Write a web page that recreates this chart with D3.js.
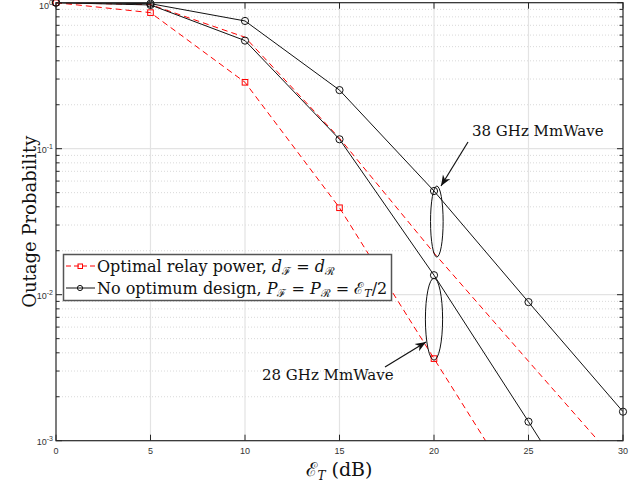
<!DOCTYPE html>
<html>
<head>
<meta charset="utf-8">
<script src="https://cdn.jsdelivr.net/npm/d3@7"></script>
<style>
  body { margin: 0; background: #fff; }
  svg { display: block; }
  .tick-label { font: 9px "Liberation Sans", Arial, sans-serif; fill: #333; }
  .serif { font-family: "DejaVu Serif", "Liberation Serif", serif; fill: #111; }
</style>
</head>
<body>
<script>
// transmit power (dB) on x
var snr = [0, 5, 10, 15, 20, 25, 30];

// outage probability
var opt28   = [1.0, 0.855, 0.285, 0.0394, 0.00365, 0.00034, 0.00003];
var opt38   = [1.0, 0.97, 0.58, 0.118, 0.0193, 0.0035, 0.00064];
var noOpt28 = [1.0, 0.965, 0.55, 0.116, 0.0136, 0.00135, 0.00013];
var noOpt38 = [1.0, 0.985, 0.75, 0.252, 0.0513, 0.0089, 0.00158];

var xTicks = [0, 5, 10, 15, 20, 25, 30];
var yExp = [0, -1, -2, -3];

var W = 644, H = 485;
var margin = {left: 56, right: 21, top: 2.7, bottom: 44.3};
var width = W - margin.left - margin.right,
    height = H - margin.top - margin.bottom;

var svg = d3.select("body").append("svg")
  .attr("width", W).attr("height", H);

var x = d3.scaleLinear().domain([0, 30]).range([margin.left, margin.left + width]);
var y = d3.scaleLog().domain([1e-3, 1]).range([margin.top + height, margin.top]);

var x0 = x.range()[0], x1 = x.range()[1], y0 = y.range()[0], y1 = y.range()[1];

svg.append("defs").append("clipPath").attr("id", "clip")
  .append("rect").attr("x", x0).attr("y", y1).attr("width", width).attr("height", height);

// minor y grid (dotted)
var minor = [];
[-3, -2, -1].forEach(function(e) {
  for (var k = 2; k <= 9; k++) minor.push(k * Math.pow(10, e));
});
svg.append("g").selectAll("line").data(minor).enter().append("line")
  .attr("x1", x0).attr("x2", x1)
  .attr("y1", function(d) { return y(d); }).attr("y2", function(d) { return y(d); })
  .attr("stroke", "#cfcfcf").attr("stroke-width", 0.8).attr("stroke-dasharray", "1,2");

// major grid
svg.append("g").selectAll("line").data(yExp.slice(1, 3)).enter().append("line")
  .attr("x1", x0).attr("x2", x1)
  .attr("y1", function(d) { return y(Math.pow(10, d)); }).attr("y2", function(d) { return y(Math.pow(10, d)); })
  .attr("stroke", "#e3e3e3").attr("stroke-width", 1.2);
svg.append("g").selectAll("line").data(xTicks.slice(1, 6)).enter().append("line")
  .attr("y1", y0).attr("y2", y1)
  .attr("x1", function(d) { return x(d); }).attr("x2", function(d) { return x(d); })
  .attr("stroke", "#e3e3e3").attr("stroke-width", 1.2);

// ticks, inward on all four sides
var tk = svg.append("g").attr("stroke", "#262626").attr("stroke-width", 1);
xTicks.forEach(function(t) {
  tk.append("line").attr("x1", x(t)).attr("x2", x(t)).attr("y1", y0).attr("y2", y0 - 6);
  tk.append("line").attr("x1", x(t)).attr("x2", x(t)).attr("y1", y1).attr("y2", y1 + 6);
});
yExp.forEach(function(e) {
  var v = y(Math.pow(10, e));
  tk.append("line").attr("x1", x0).attr("x2", x0 + 6).attr("y1", v).attr("y2", v);
  tk.append("line").attr("x1", x1).attr("x2", x1 - 6).attr("y1", v).attr("y2", v);
});
minor.forEach(function(m) {
  var v = y(m);
  tk.append("line").attr("x1", x0).attr("x2", x0 + 3.5).attr("y1", v).attr("y2", v);
  tk.append("line").attr("x1", x1).attr("x2", x1 - 3.5).attr("y1", v).attr("y2", v);
});

// tick labels
svg.append("g").selectAll("text").data(xTicks).enter().append("text")
  .attr("class", "tick-label")
  .attr("x", function(d) { return x(d); }).attr("y", y0 + 13)
  .attr("text-anchor", "middle").text(function(d) { return d; });

yExp.forEach(function(e) {
  var t = svg.append("text").attr("class", "tick-label")
    .attr("x", x0 - 3).attr("y", Math.max(y(Math.pow(10, e)) + 4, 8.5)).attr("text-anchor", "end");
  t.append("tspan").text("10");
  t.append("tspan").attr("dy", -3.5).attr("font-size", "7px").text(e);
});

// curves
var line = d3.line()
  .x(function(d) { return x(d[0]); })
  .y(function(d) { return y(d[1]); });

function pairs(vals) { return snr.map(function(s, i) { return [s, vals[i]]; }); }

var curves = svg.append("g").attr("clip-path", "url(#clip)");
[[opt38, "red", "6,4"], [opt28, "red", "6,4"], [noOpt28, "#111", null], [noOpt38, "#111", null]]
  .forEach(function(c) {
    curves.append("path").datum(pairs(c[0]))
      .attr("d", line).attr("fill", "none")
      .attr("stroke", c[1]).attr("stroke-width", 1)
      .attr("stroke-dasharray", c[2]);
  });

// markers
var inRange = function(d) { return d[1] >= 1e-3; };
svg.append("g").selectAll("rect").data(pairs(opt28).filter(inRange)).enter().append("rect")
  .attr("x", function(d) { return x(d[0]) - 2.8; }).attr("y", function(d) { return y(d[1]) - 2.8; })
  .attr("width", 5.6).attr("height", 5.6)
  .attr("fill", "none").attr("stroke", "red").attr("stroke-width", 1);
[noOpt28, noOpt38].forEach(function(s) {
  svg.append("g").selectAll("circle").data(pairs(s).filter(inRange)).enter().append("circle")
    .attr("cx", function(d) { return x(d[0]); }).attr("cy", function(d) { return y(d[1]); })
    .attr("r", 3.6).attr("fill", "none").attr("stroke", "#111").attr("stroke-width", 1);
});

// axes box
svg.append("rect").attr("x", x0).attr("y", y1).attr("width", width).attr("height", height)
  .attr("fill", "none").attr("stroke", "#262626").attr("stroke-width", 1.2);

// axis labels
svg.append("text").attr("class", "serif")
  .attr("transform", "translate(36," + (y1 + y0) / 2 + ") rotate(-90)")
  .attr("text-anchor", "middle").attr("font-size", "18px")
  .text("Outage Probability");

var xl = svg.append("text").attr("class", "serif")
  .attr("x", (x0 + x1) / 2).attr("y", 476)
  .attr("text-anchor", "middle").attr("font-size", "19px");
xl.append("tspan").text("\u2130");
xl.append("tspan").attr("font-size", "12px").attr("font-style", "italic").attr("dy", 4).text("T");
xl.append("tspan").attr("dy", -4).text(" (dB)");

// annotations: ellipses around the 20 dB points and arrows
svg.append("defs").append("marker").attr("id", "arr")
  .attr("viewBox", "0 0 10 10").attr("refX", 10).attr("refY", 5)
  .attr("markerWidth", 9).attr("markerHeight", 9).attr("orient", "auto")
  .append("path").attr("d", "M0,1 L10,5 L0,9 L3,5 Z").attr("fill", "#111");

svg.append("ellipse").attr("cx", x(20.15)).attr("cy", y(0.0317))
  .attr("rx", 6.3).attr("ry", 35.5).attr("fill", "none").attr("stroke", "#111").attr("stroke-width", 1);
svg.append("ellipse").attr("cx", x(20)).attr("cy", y(0.0068))
  .attr("rx", 8.6).attr("ry", 41).attr("fill", "none").attr("stroke", "#111").attr("stroke-width", 1);

svg.append("line").attr("x1", 468).attr("y1", 142).attr("x2", 441).attr("y2", 186)
  .attr("stroke", "#111").attr("stroke-width", 1.2).attr("marker-end", "url(#arr)");
svg.append("line").attr("x1", 385).attr("y1", 367).attr("x2", 426).attr("y2", 342)
  .attr("stroke", "#111").attr("stroke-width", 1.2).attr("marker-end", "url(#arr)");

svg.append("text").attr("class", "serif").attr("x", 472).attr("y", 136)
  .attr("font-size", "15px").text("38 GHz MmWave");
svg.append("text").attr("class", "serif").attr("x", 262).attr("y", 380)
  .attr("font-size", "15px").text("28 GHz MmWave");

// legend
var lg = svg.append("g");
lg.append("rect").attr("x", 63.5).attr("y", 254.5).attr("width", 328).attr("height", 46)
  .attr("fill", "#fff").attr("stroke", "#555").attr("stroke-width", 1.5);

lg.append("line").attr("x1", 66).attr("x2", 95).attr("y1", 266).attr("y2", 266)
  .attr("stroke", "red").attr("stroke-dasharray", "5,3");
lg.append("rect").attr("x", 78).attr("y", 264).attr("width", 4.5).attr("height", 4.5)
  .attr("fill", "none").attr("stroke", "red");
lg.append("line").attr("x1", 66).attr("x2", 95).attr("y1", 288).attr("y2", 288)
  .attr("stroke", "#111");
lg.append("circle").attr("cx", 80).attr("cy", 288).attr("r", 2.6)
  .attr("fill", "none").attr("stroke", "#111");

var t1 = lg.append("text").attr("class", "serif").attr("x", 97).attr("y", 272).attr("font-size", "16px");
t1.append("tspan").text("Optimal relay power, ");
t1.append("tspan").attr("font-style", "italic").text("d");
t1.append("tspan").attr("font-size", "11px").attr("dy", 3).text("\u2131");
t1.append("tspan").attr("dy", -3).text(" = ");
t1.append("tspan").attr("font-style", "italic").text("d");
t1.append("tspan").attr("font-size", "11px").attr("dy", 3).text("\u211B");

var t2 = lg.append("text").attr("class", "serif").attr("x", 97).attr("y", 294).attr("font-size", "16px");
t2.append("tspan").text("No optimum design, ");
t2.append("tspan").attr("font-style", "italic").text("P");
t2.append("tspan").attr("font-size", "11px").attr("dy", 3).text("\u2131");
t2.append("tspan").attr("dy", -3).text(" = ");
t2.append("tspan").attr("font-style", "italic").text("P");
t2.append("tspan").attr("font-size", "11px").attr("dy", 3).text("\u211B");
t2.append("tspan").attr("dy", -3).text(" = \u2130");
t2.append("tspan").attr("font-size", "11px").attr("font-style", "italic").attr("dy", 3).text("T");
t2.append("tspan").attr("dy", -3).text("/2");
</script>
</body>
</html>
